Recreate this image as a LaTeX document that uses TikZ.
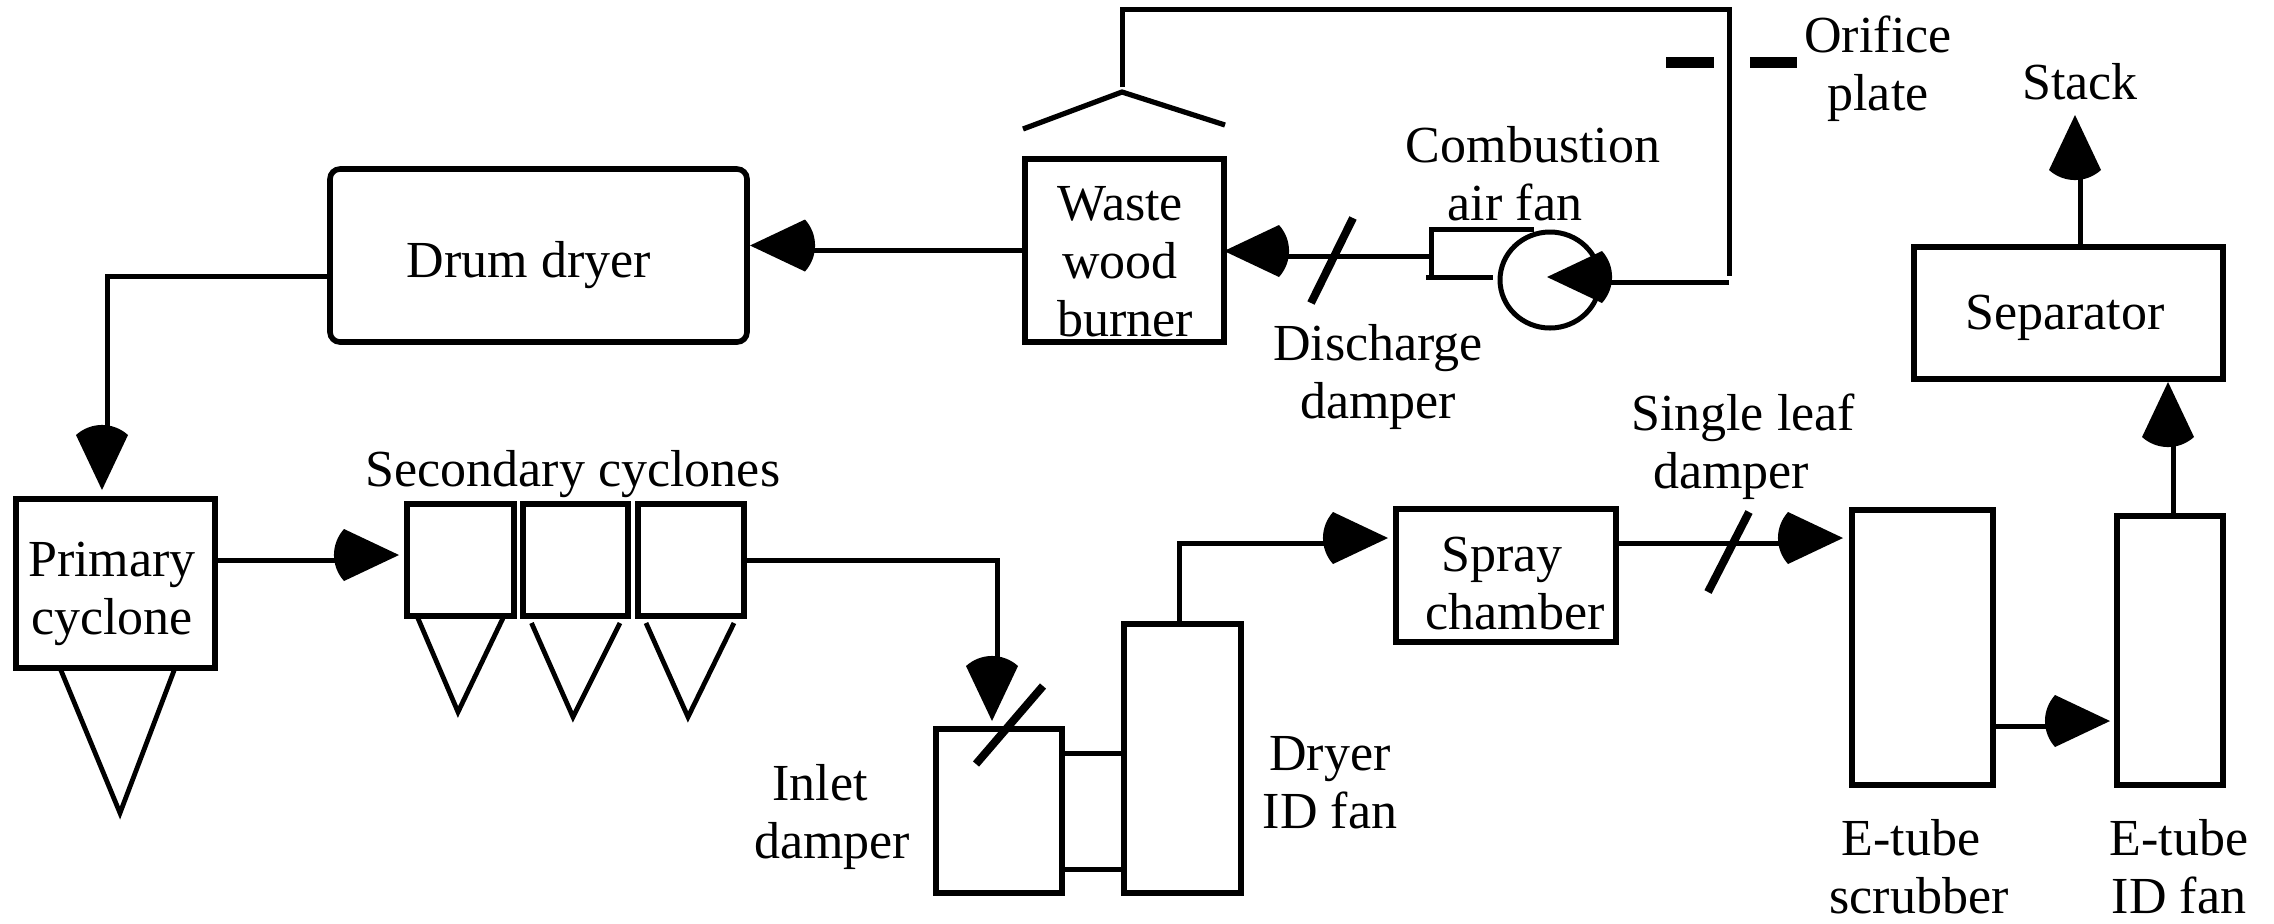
\documentclass[tikz,border=0pt]{standalone}
\usepackage{fontspec}
\setmainfont{Liberation Serif}
\usetikzlibrary{calc,shapes.geometric}
\makeatletter
\pgfdeclarearrow{
  name=BulL,
  setup code={\pgfarrowssettipend{0pt}\pgfarrowssetbackend{-32.5pt}\pgfarrowssetlineend{-28pt}\pgfarrowssetvisualbackend{-28pt}
    \pgfarrowshullpoint{0pt}{2.5pt}\pgfarrowshullpoint{-32.5pt}{15.5pt}\pgfarrowshullpoint{-32.5pt}{-10.5pt}},
  drawing code={\pgfpathmoveto{\pgfqpoint{0pt}{2.5pt}}
    \pgfpathlineto{\pgfqpoint{-27.5pt}{15.5pt}}
    \pgfpathcurveto{\pgfqpoint{-34.2pt}{8pt}}{\pgfqpoint{-34.2pt}{-3pt}}{\pgfqpoint{-27.5pt}{-10.5pt}}
    \pgfpathclose\pgfusepathqfill}
}
\pgfdeclarearrow{
  name=BulR,
  setup code={\pgfarrowssettipend{0pt}\pgfarrowssetbackend{-32.5pt}\pgfarrowssetlineend{-28pt}\pgfarrowssetvisualbackend{-28pt}
    \pgfarrowshullpoint{0pt}{-2.5pt}\pgfarrowshullpoint{-32.5pt}{10.5pt}\pgfarrowshullpoint{-32.5pt}{-15.5pt}},
  drawing code={\pgfpathmoveto{\pgfqpoint{0pt}{-2.5pt}}
    \pgfpathlineto{\pgfqpoint{-27.5pt}{10.5pt}}
    \pgfpathcurveto{\pgfqpoint{-34.2pt}{3pt}}{\pgfqpoint{-34.2pt}{-8pt}}{\pgfqpoint{-27.5pt}{-15.5pt}}
    \pgfpathclose\pgfusepathqfill}
}
\makeatother
\tikzset{
  box/.style={draw=black,line width=2.8pt,rectangle,inner sep=0pt,outer sep=0pt},
  txt/.style={font=\fontsize{26pt}{29pt}\selectfont,align=center,inner sep=0pt,outer sep=0pt,anchor=base},
  line/.style={draw=black,line width=2.5pt},
  east/.style={line,-{BulL}},
  north/.style={line,-{BulL}},
  west/.style={line,-{BulR}},
  south/.style={line,-{BulR}},
  blade/.style={draw=black,line width=4pt},
  plate/.style={draw=black,line width=5.5pt},
  conew/.style={draw=black,line width=2.4pt}
}
\begin{document}
\begin{tikzpicture}[x=0.5pt,y=-0.5pt]
\useasboundingbox (0,0) rectangle (2274,923);
% boxes
\node[box,minimum width=99.5pt,minimum height=91.5pt] (burner) at (1124.5,250.5) {};
\node[box,rounded corners=5pt,minimum width=208.5pt,minimum height=86.5pt] (dryer) at (538.5,255.5) {};
\node[box,minimum width=99.5pt,minimum height=84.5pt] (primary) at (115.5,583.5) {};
\node[box,minimum width=53.5pt,minimum height=56pt] (sec1) at (460.5,560) {};
\node[box,minimum width=52.5pt,minimum height=56pt] (sec2) at (575.5,560) {};
\node[box,minimum width=53pt,minimum height=56pt] (sec3) at (691,560) {};
\node[box,minimum width=63pt,minimum height=82pt] (inlet) at (999,811) {};
\node[box,minimum width=58.5pt,minimum height=134.5pt] (idfan) at (1182.5,758.5) {};
\node[box,minimum width=110pt,minimum height=66.5pt] (spray) at (1506,575.5) {};
\node[box,minimum width=70.5pt,minimum height=137.5pt] (scrub) at (1922.5,647.5) {};
\node[box,minimum width=53pt,minimum height=134.5pt] (etfan) at (2170,650.5) {};
\node[box,minimum width=154.5pt,minimum height=66pt] (sep) at (2068.5,313) {};
\node[draw=black,line width=2.5pt,ellipse,inner sep=0pt,outer sep=0pt,minimum width=50pt,minimum height=48pt] (fan) at (1550,280) {};
% coordinates
\coordinate (house) at (1431,256);
\coordinate (junction) at (1729,282);
\coordinate (stackEnd) at (2080,115);
\coordinate (roofTop) at (1122,87);
\coordinate (pipeCorner) at (1729,9);
\coordinate (pipeEnd) at (1729,276);
\coordinate (dryerOut) at ($(dryer.west)+(0,20.5)$);
\coordinate (primaryIn) at ($(primary.north)+(-8.5,0)$);
\coordinate (inletIn) at ($(inlet.north)+(-2,0)$);
\coordinate (idOut) at ($(idfan.north)+(-3,0)$);
\coordinate (sprayIn) at ($(spray.west)+(0,-32.5)$);
\coordinate (sprayOut) at ($(spray.east)+(0,-32.5)$);
\coordinate (scrubOut) at ($(scrub.east)+(0,78.5)$);
\coordinate (etOut) at ($(etfan.north)+(3,0)$);
\coordinate (duct1) at ($(inlet.east)+(0,-58)$);
\coordinate (duct2) at ($(inlet.east)+(0,58)$);
% connectors
\draw[west,shorten >=1.5pt] (burner.west) -- (dryer.east |- burner.west);
\draw[south,shorten >=4.5pt] (dryerOut) -| (primaryIn);
\draw[east,shorten >=4pt] (primary.east |- sec1.west) -- (sec1.west);
\draw[south,shorten >=4pt] (sec3.east) -| (inletIn);
\draw[east,shorten >=4pt] (idOut) |- (sprayIn);
\draw[east,shorten >=4.5pt] (sprayOut) -- (scrub.west |- sprayOut);
\draw[east,shorten >=3.5pt] (scrubOut) -- (etfan.west |- scrubOut);
\draw[north,shorten >=1.5pt] (etOut) -- (etOut |- sep.south);
\draw[north] (stackEnd |- sep.north) -- (stackEnd);
\draw[west] (house) -- (burner.east |- house);
\draw[west,shorten >=-1.5pt] (junction) -- (fan.center |- junction);
\draw[line,line cap=butt] (roofTop) |- (pipeCorner) -- (pipeEnd);
\draw[line] (duct1) -- (duct1 -| idfan.west);
\draw[line] (duct2) -- (duct2 -| idfan.west);
% fan housing
\draw[line] (1534,229) -- (1431,229) -- (house) -- (1431,277);
\draw[line] (1426,277) -- (1493,277);
% roof, cones
\draw[line,line width=2.6pt] (1023,129) -- (1122,92) -- (1225,125);
\draw[conew] (60,668) -- (120,813) -- (175,668);
\draw[conew] (417,616) -- (458,712) -- (504,616);
\draw[conew] (531.5,623) -- (573,717) -- (620,623);
\draw[conew] (646,623) -- (688,717) -- (734,623);
% dampers and plates
\draw[blade] (1353,218) -- (1311,303);
\draw[blade] (1043,686) -- (976,764);
\draw[blade] (1749,512) -- (1708,592);
\draw[plate] (1666,62) -- (1714,62);
\draw[plate] (1750,62) -- (1797,62);
% labels
\node[txt] (tBurner) at (1120,336) {Waste\\wood\hspace*{8pt}\\\hspace*{5pt}burner};
\node[txt] (tDryer) at (529,277) {Drum dryer};
\node[txt] (tPrimary) at (112,634) {Primary\\cyclone};
\node[txt] (tSec) at (573,486) {Secondary cyclones};
\node[txt] (tSpray) at (1515,629) {Spray\hspace*{13pt}\\chamber};
\node[txt] (tCombust) at (1533,220) {Combustion\\air fan\hspace*{18pt}};
\node[txt] (tDis) at (1378,418) {Discharge\\damper};
\node[txt] (tOrifice) at (1878,110) {Orifice\\plate};
\node[txt] (tStack) at (2080,99) {Stack};
\node[txt] (tSep) at (2065,329) {Separator};
\node[txt] (tSingle) at (1743,488) {Single leaf\\damper\hspace*{12pt}};
\node[txt] (tInlet) at (832,858) {Inlet\hspace*{12pt}\\damper};
\node[txt] (tID) at (1330,828) {Dryer\\ID fan};
\node[txt] (tScrub) at (1919,913) {E-tube\hspace*{8pt}\\scrubber};
\node[txt] (tET) at (2179,913) {E-tube\\ID fan};
\end{tikzpicture}
\end{document}
